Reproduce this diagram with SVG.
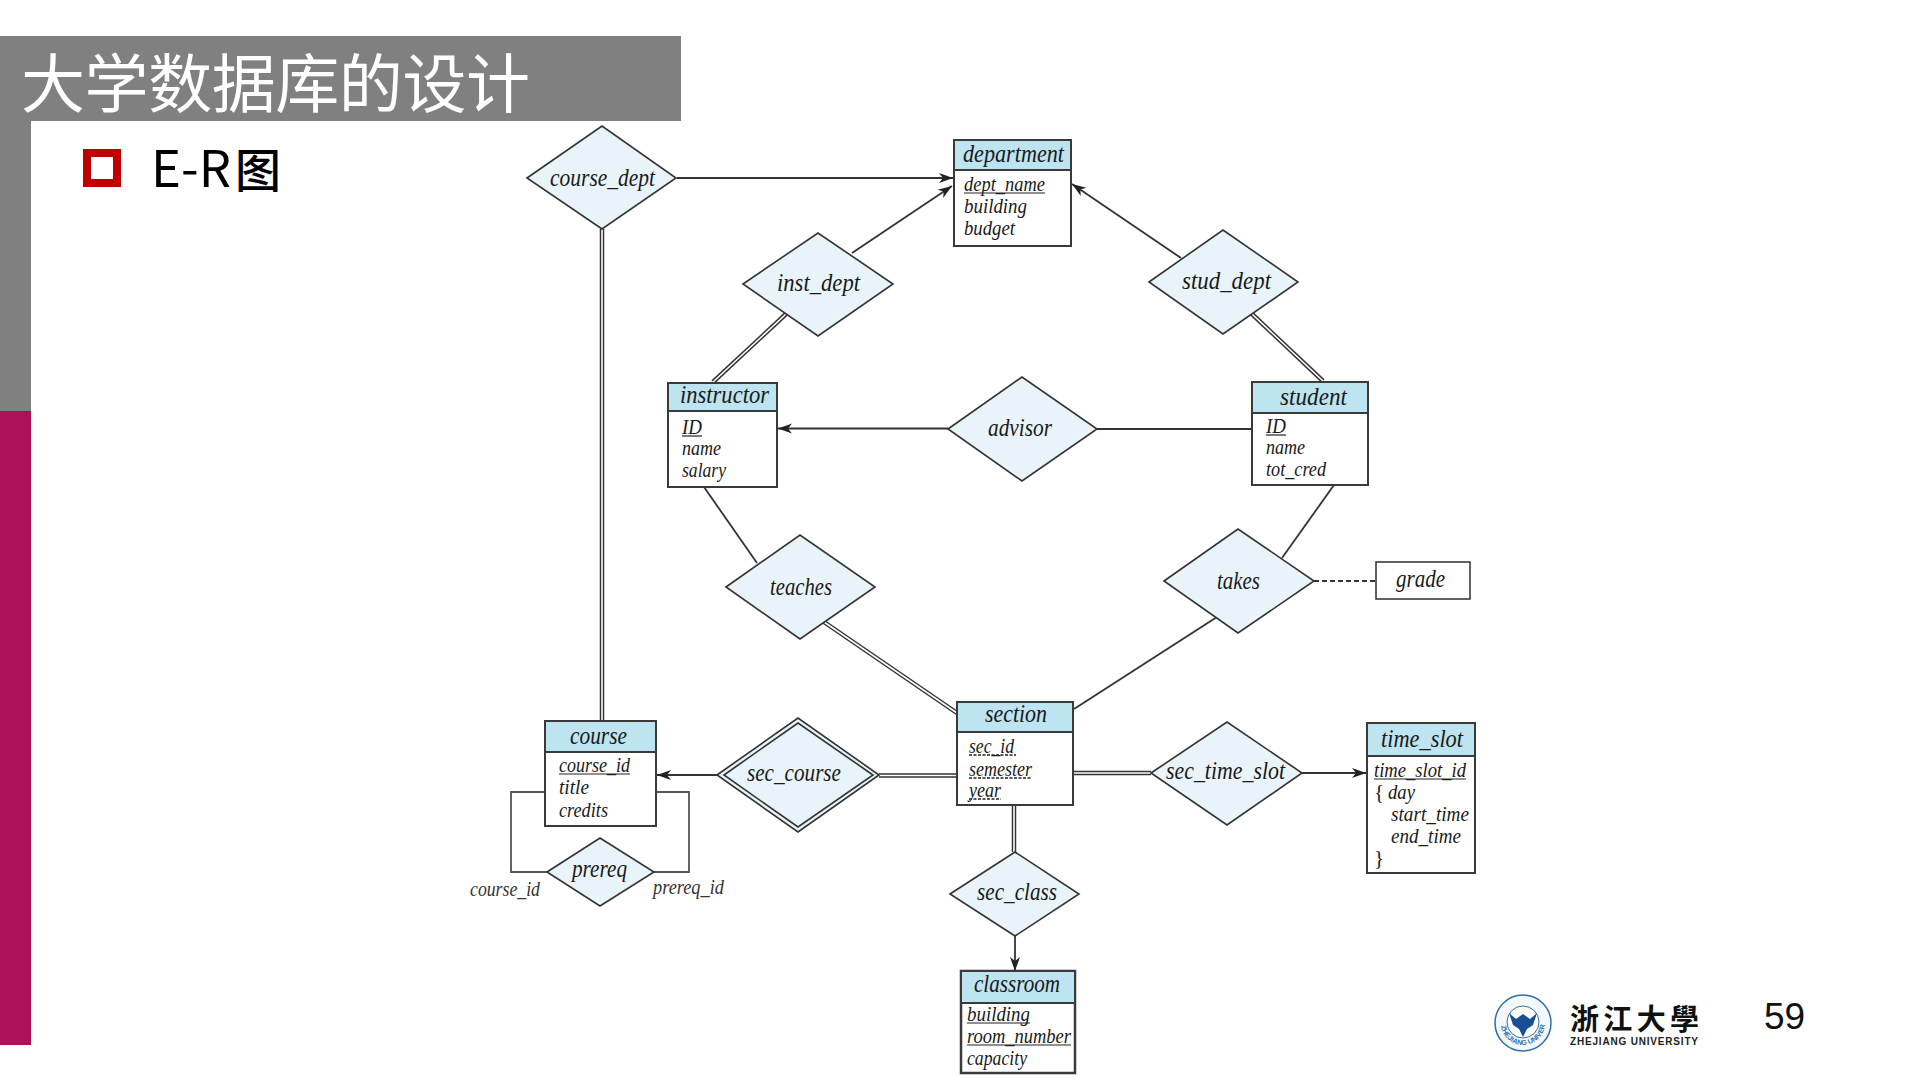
<svg xmlns="http://www.w3.org/2000/svg" width="1920" height="1080" viewBox="0 0 1920 1080">
<style>
.t{font-family:"Liberation Serif",serif;font-style:italic;fill:#1a1a1a}
.h{font-size:24.500px}.a{font-size:21px}.r{font-size:24.500px}.l{font-size:20px;fill:#333}
.box{fill:#fff;stroke:#3a3a3a;stroke-width:2}
.hd{fill:#bde4f0;stroke:#3a3a3a;stroke-width:2}
.d{fill:#e8f4fa;stroke:#333;stroke-width:1.6}
.c{fill:none;stroke:#333;stroke-width:1.8}
.o{fill:none;stroke:#333;stroke-width:4.500}
.i{fill:none;stroke:#fff;stroke-width:1.600}
.u{stroke:#222;stroke-width:1.200}
.pk{stroke:#222;stroke-width:1.400;stroke-dasharray:3 1.500}
.ar{marker-end:url(#arr)}
.seal{font-family:"Liberation Sans",sans-serif;font-size:7px;font-weight:700;fill:#2f6fa8}
</style>
<defs>
<marker id="arr" markerUnits="userSpaceOnUse" markerWidth="16" markerHeight="12" refX="14" refY="6" orient="auto"><path d="M0,1 L14,6 L0,11 L4,6z" fill="#222"/></marker>
<path id="ringLow" d="M1501,1023A22,22 0 0 0 1545,1023"/>
</defs>
<rect width="1920" height="1080" fill="#fff"/>
<g id="slide-frame">
<rect x="0" y="36" width="681" height="85" fill="#808080"/>
<rect x="0" y="121" width="31" height="290" fill="#808080"/>
<rect x="0" y="411" width="31" height="634" fill="#ad1157"/>
<text x="21" y="107" font-size="64" fill="#fff" font-family="'Noto Sans CJK SC',sans-serif" textLength="509">大学数据库的设计</text>
<rect x="87" y="153" width="30" height="30" fill="#fff" stroke="#c00000" stroke-width="8"/>
<text x="151" y="187" font-size="50" fill="#000" font-family="'Noto Sans CJK SC',sans-serif" textLength="80" lengthAdjust="spacingAndGlyphs">E-R</text>
<text x="235" y="187" font-size="46" font-weight="500" fill="#000" font-family="'Noto Sans CJK SC',sans-serif">图</text>
</g>
<g id="connectors">
<path class="c ar" d="M677,178H953"/>
<path class="c ar" d="M852,253L952,186"/>
<path class="c ar" d="M1181,258L1072,184"/>
<path class="c ar" d="M948,428.500H778"/>
<path class="c" d="M1097,429H1252"/>
<path class="c" d="M704,487L757,563"/>
<path class="c" d="M1334,485L1282,558"/>
<path class="c" d="M1074,709L1217,617"/>
<path class="c" stroke-dasharray="5 3" d="M1314,581H1376"/>
<path class="c ar" d="M717,775H657"/>
<path class="c ar" d="M1302,773H1366"/>
<path class="c ar" d="M1015,936V971"/>
<path class="c" style="stroke:#555" d="M545,792H511V872H547"/>
<path class="c" style="stroke:#555" d="M656,792H689V872H654"/>
<path class="o" d="M786,314L713,382"/><path class="i" d="M786,314L713,382"/>
<path class="o" d="M1252,314L1323,381"/><path class="i" d="M1252,314L1323,381"/>
<path class="o" d="M824,622L957,713"/><path class="i" d="M824,622L957,713"/>
<path class="o" d="M602,229V721"/><path class="i" d="M602,229V721"/>
<path class="o" d="M879,775.500H957"/><path class="i" d="M879,775.500H957"/>
<path class="o" d="M1073,773H1151"/><path class="i" d="M1073,773H1151"/>
<path class="o" d="M1014,805V852"/><path class="i" d="M1014,805V852"/>
</g>
<g id="course_dept"><polygon class="d" points="527,178 602,126 676,178 602,229"/><text class="t r" x="550" y="186" textLength="105" lengthAdjust="spacingAndGlyphs">course_dept</text></g>
<g id="inst_dept"><polygon class="d" points="743,284 818,233 893,284 818,336"/><text class="t r" x="777" y="291" textLength="83" lengthAdjust="spacingAndGlyphs">inst_dept</text></g>
<g id="stud_dept"><polygon class="d" points="1149,282 1223,230 1298,282 1223,334"/><text class="t r" x="1182" y="289" textLength="89" lengthAdjust="spacingAndGlyphs">stud_dept</text></g>
<g id="advisor"><polygon class="d" points="948,429 1022,377 1097,429 1022,481"/><text class="t r" x="988" y="436" textLength="64" lengthAdjust="spacingAndGlyphs">advisor</text></g>
<g id="teaches"><polygon class="d" points="726,587 800,535 875,587 800,639"/><text class="t r" x="770" y="595" textLength="62" lengthAdjust="spacingAndGlyphs">teaches</text></g>
<g id="takes"><polygon class="d" points="1164,581 1238,529 1314,581 1238,633"/><text class="t r" x="1217" y="589" textLength="43" lengthAdjust="spacingAndGlyphs">takes</text></g>
<g id="sec_course"><polygon class="d" points="717,775 798,718 879,775 798,832"/><polygon class="d" points="724,775 798,723 873,775 798,827"/><text class="t r" x="747" y="781" textLength="94" lengthAdjust="spacingAndGlyphs">sec_course</text></g>
<g id="sec_time_slot"><polygon class="d" points="1151,773 1227,722 1302,773 1227,825"/><text class="t r" x="1166" y="779" textLength="119" lengthAdjust="spacingAndGlyphs">sec_time_slot</text></g>
<g id="sec_class"><polygon class="d" points="950,894 1015,852 1079,894 1015,936"/><text class="t r" x="977" y="900" textLength="80" lengthAdjust="spacingAndGlyphs">sec_class</text></g>
<g id="prereq"><polygon class="d" points="547,872 600,838 654,872 600,906"/><text class="t r" x="572" y="877" textLength="55" lengthAdjust="spacingAndGlyphs">prereq</text><text class="t l" x="470" y="896" textLength="70" lengthAdjust="spacingAndGlyphs">course_id</text><text class="t l" x="653" y="894" textLength="71" lengthAdjust="spacingAndGlyphs">prereq_id</text></g>
<g id="department"><rect class="box" x="954" y="140" width="117" height="106"/><rect class="hd" x="954" y="140" width="117" height="30"/>
<text class="t h" x="963" y="162" textLength="101" lengthAdjust="spacingAndGlyphs">department</text>
<text class="t a" x="964" y="191" textLength="81" lengthAdjust="spacingAndGlyphs">dept_name</text><line class="u" x1="964" y1="193" x2="1045" y2="193"/>
<text class="t a" x="964" y="213" textLength="63" lengthAdjust="spacingAndGlyphs">building</text>
<text class="t a" x="964" y="235" textLength="51" lengthAdjust="spacingAndGlyphs">budget</text></g>
<g id="instructor"><rect class="box" x="668" y="383" width="109" height="104"/><rect class="hd" x="668" y="383" width="109" height="28"/>
<text class="t h" x="680" y="403" textLength="89" lengthAdjust="spacingAndGlyphs">instructor</text>
<text class="t a" x="682" y="434" textLength="20" lengthAdjust="spacingAndGlyphs">ID</text><line class="u" x1="682" y1="436" x2="702" y2="436"/>
<text class="t a" x="682" y="455" textLength="39" lengthAdjust="spacingAndGlyphs">name</text>
<text class="t a" x="682" y="477" textLength="44" lengthAdjust="spacingAndGlyphs">salary</text></g>
<g id="student"><rect class="box" x="1252" y="382" width="116" height="103"/><rect class="hd" x="1252" y="382" width="116" height="31"/>
<text class="t h" x="1280" y="405" textLength="67" lengthAdjust="spacingAndGlyphs">student</text>
<text class="t a" x="1266" y="433" textLength="20" lengthAdjust="spacingAndGlyphs">ID</text><line class="u" x1="1266" y1="435" x2="1286" y2="435"/>
<text class="t a" x="1266" y="454" textLength="39" lengthAdjust="spacingAndGlyphs">name</text>
<text class="t a" x="1266" y="476" textLength="60" lengthAdjust="spacingAndGlyphs">tot_cred</text></g>
<g id="grade"><rect class="box" x="1376" y="562" width="94" height="37" style="stroke-width:1.600"/><text class="t h" x="1396" y="587" textLength="49" lengthAdjust="spacingAndGlyphs">grade</text></g>
<g id="section"><rect class="box" x="957" y="702" width="116" height="103"/><rect class="hd" x="957" y="702" width="116" height="30"/>
<text class="t h" x="985" y="722" textLength="62" lengthAdjust="spacingAndGlyphs">section</text>
<text class="t a" x="969" y="753" textLength="45" lengthAdjust="spacingAndGlyphs">sec_id</text><line class="pk" x1="969" y1="755" x2="1016" y2="755"/>
<text class="t a" x="969" y="776" textLength="63" lengthAdjust="spacingAndGlyphs">semester</text><line class="pk" x1="969" y1="778" x2="1032" y2="778"/>
<text class="t a" x="969" y="797" textLength="32" lengthAdjust="spacingAndGlyphs">year</text><line class="pk" x1="969" y1="799" x2="1001" y2="799"/></g>
<g id="course"><rect class="box" x="545" y="721" width="111" height="105"/><rect class="hd" x="545" y="721" width="111" height="31"/>
<text class="t h" x="570" y="744" textLength="57" lengthAdjust="spacingAndGlyphs">course</text>
<text class="t a" x="559" y="772" textLength="71" lengthAdjust="spacingAndGlyphs">course_id</text><line class="u" x1="559" y1="774" x2="630" y2="774"/>
<text class="t a" x="559" y="794" textLength="30" lengthAdjust="spacingAndGlyphs">title</text>
<text class="t a" x="559" y="817" textLength="49" lengthAdjust="spacingAndGlyphs">credits</text></g>
<g id="time_slot"><rect class="box" x="1367" y="723" width="108" height="150"/><rect class="hd" x="1367" y="723" width="108" height="33"/>
<text class="t h" x="1381" y="747" textLength="82" lengthAdjust="spacingAndGlyphs">time_slot</text>
<text class="t a" x="1374" y="777" textLength="92" lengthAdjust="spacingAndGlyphs">time_slot_id</text><line class="u" x1="1374" y1="779" x2="1466" y2="779"/>
<text class="t a" x="1374" y="799" style="font-style:normal">{</text><text class="t a" x="1388" y="799" textLength="27" lengthAdjust="spacingAndGlyphs">day</text>
<text class="t a" x="1391" y="821" textLength="78" lengthAdjust="spacingAndGlyphs">start_time</text>
<text class="t a" x="1391" y="843" textLength="70" lengthAdjust="spacingAndGlyphs">end_time</text>
<text class="t a" x="1374" y="865" style="font-style:normal">}</text></g>
<g id="classroom"><rect class="box" x="961" y="971" width="114" height="102" style="stroke-width:2.500"/><rect class="hd" x="961" y="971" width="114" height="32"/>
<text class="t h" x="974" y="992" textLength="86" lengthAdjust="spacingAndGlyphs">classroom</text>
<text class="t a" x="967" y="1021" textLength="63" lengthAdjust="spacingAndGlyphs">building</text><line class="u" x1="967" y1="1023" x2="1030" y2="1023"/>
<text class="t a" x="967" y="1043" textLength="104" lengthAdjust="spacingAndGlyphs">room_number</text><line class="u" x1="967" y1="1045" x2="1071" y2="1045"/>
<text class="t a" x="967" y="1065" textLength="60" lengthAdjust="spacingAndGlyphs">capacity</text></g>
<g id="logo">
<circle cx="1523" cy="1023" r="28" fill="#f4f8fb" stroke="#2f6fa8" stroke-width="1.500"/>
<circle cx="1523" cy="1022" r="16" fill="#fff" stroke="#2f6fa8" stroke-width="1"/>
<path d="M1509,1013L1516,1019L1523,1014L1530,1019L1537,1013L1533,1025L1527,1029L1523,1037L1519,1029L1513,1025z" fill="#1a4f96"/>
<text class="seal"><textPath href="#ringLow" startOffset="3">ZHEJIANG UNIVERSITY</textPath></text>
<text x="1570" y="1030" font-size="29" font-weight="700" fill="#111" font-family="'Noto Sans CJK SC',sans-serif" textLength="129">浙江大學</text>
<text x="1570" y="1045" font-size="10" font-weight="700" fill="#222" font-family="'Liberation Sans',sans-serif" textLength="128">ZHEJIANG UNIVERSITY</text>
</g>
<text id="page-number" x="1764" y="1029" font-size="37" fill="#111" font-family="'Liberation Sans',sans-serif">59</text>
</svg>
